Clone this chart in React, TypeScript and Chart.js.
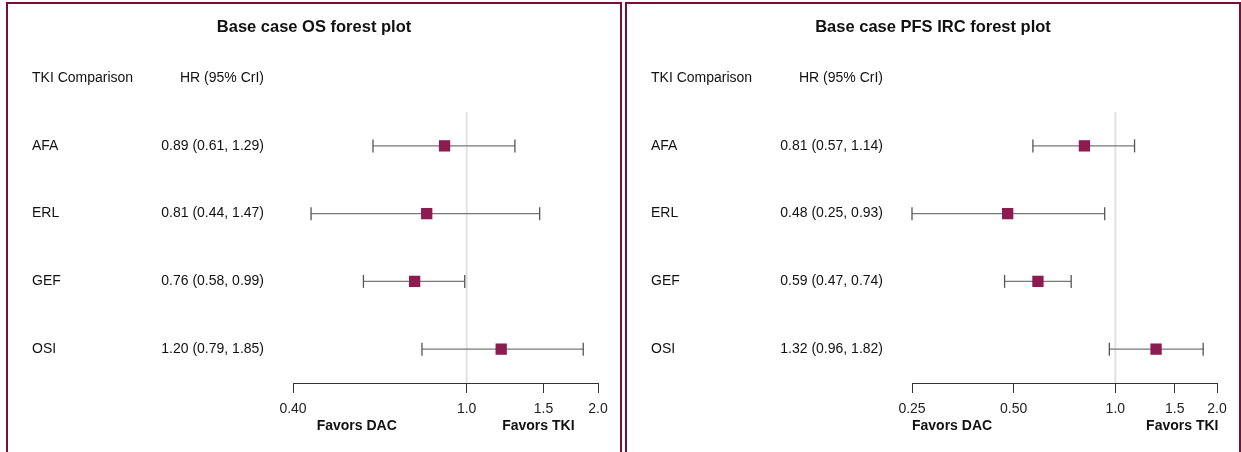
import React, { useEffect, useRef } from "react";
import { Chart, registerables } from "chart.js";

Chart.register(...registerables);

// ---- data ----
const ROW_LABELS = ["AFA", "ERL", "GEF", "OSI"];

const OS_TITLE = "Base case OS forest plot";
const OS_HR = [0.89, 0.81, 0.76, 1.2];
const OS_LO = [0.61, 0.44, 0.58, 0.79];
const OS_HI = [1.29, 1.47, 0.99, 1.85];
const OS_TICKS = [0.4, 1.0, 1.5, 2.0];
const OS_TICK_LABELS = ["0.40", "1.0", "1.5", "2.0"];

const PFS_TITLE = "Base case PFS IRC forest plot";
const PFS_HR = [0.81, 0.48, 0.59, 1.32];
const PFS_LO = [0.57, 0.25, 0.47, 0.96];
const PFS_HI = [1.14, 0.93, 0.74, 1.82];
const PFS_TICKS = [0.25, 0.5, 1.0, 1.5, 2.0];
const PFS_TICK_LABELS = ["0.25", "0.50", "1.0", "1.5", "2.0"];

const HEADER_LABEL = "TKI Comparison";
const HEADER_HR = "HR (95% CrI)";
const FAVORS_LABELS = ["Favors DAC", "Favors TKI"];

const FONT = "'Liberation Sans', Arial, Helvetica, sans-serif";
const MAROON = "#781038";
const MARKER = "#8c1c50";

const CANVAS_W = 612;
const CANVAS_H = 448;

type FavorsSpec = { at: number; align: CanvasTextAlign };

type PanelProps = {
  title: string;
  hr: number[];
  lo: number[];
  hi: number[];
  ticks: number[];
  tickLabels: string[];
  favors: FavorsSpec[];
  left: number;
};

function ForestPanel(props: PanelProps) {
  const ref = useRef<HTMLCanvasElement | null>(null);

  useEffect(() => {
    const { title, hr, lo, hi, ticks, tickLabels, favors } = props;
    const canvas = ref.current;
    if (!canvas) return;

    const textPlugin = {
      id: "forestText",
      beforeDatasetsDraw(chart: any) {
        const { ctx, chartArea, scales } = chart;
        const x1 = scales.x.getPixelForValue(1);
        ctx.save();
        ctx.strokeStyle = "#e2e2e2";
        ctx.lineWidth = 2;
        ctx.beginPath();
        ctx.moveTo(x1, chartArea.top);
        ctx.lineTo(x1, chartArea.bottom);
        ctx.stroke();
        ctx.restore();
      },
      afterDraw(chart: any) {
        const { ctx, scales, width } = chart;
        const ys = scales.y;
        const xs = scales.x;
        ctx.save();
        ctx.fillStyle = "#111";
        ctx.textBaseline = "middle";
        // title
        ctx.font = `bold 16.5px ${FONT}`;
        ctx.textAlign = "center";
        ctx.fillText(title, width / 2, 23);
        // header
        ctx.font = `14px ${FONT}`;
        const hy = ys.getPixelForValue(0);
        ctx.textAlign = "left";
        ctx.fillText(HEADER_LABEL, 24, hy);
        ctx.textAlign = "right";
        ctx.fillText(HEADER_HR, 256, hy);
        // rows
        ROW_LABELS.forEach((lab, i) => {
          const y = ys.getPixelForValue(i + 1);
          ctx.textAlign = "left";
          ctx.fillText(lab, 24, y);
          ctx.textAlign = "right";
          ctx.fillText(
            `${hr[i].toFixed(2)} (${lo[i].toFixed(2)}, ${hi[i].toFixed(2)})`,
            256,
            y
          );
        });
        // favors
        ctx.font = `bold 14px ${FONT}`;
        favors.forEach((f, i) => {
          ctx.textAlign = f.align;
          ctx.fillText(FAVORS_LABELS[i], xs.getPixelForValue(f.at), 422.5);
        });
        ctx.restore();
      },
    };

    const errorSets = hr.map((_, i) => ({
      type: "scatter",
      data: [
        { x: lo[i], y: i + 1 },
        { x: hi[i], y: i + 1 },
      ],
      showLine: true,
      borderColor: "#777",
      borderWidth: 1.2,
      pointStyle: "line",
      pointRotation: 90,
      pointRadius: 6.5,
      pointBorderColor: "#555",
      pointBorderWidth: 1.3,
      pointBackgroundColor: "#555",
      clip: false,
      order: 1,
    }));

    const markerSet = {
      type: "scatter",
      data: hr.map((v, i) => ({ x: v, y: i + 1 })),
      pointStyle: "rect",
      pointRadius: 8,
      pointBackgroundColor: MARKER,
      pointBorderColor: MARKER,
      pointBorderWidth: 0,
      clip: false,
      order: 0,
    };

    const chart = new Chart(canvas, {
      type: "scatter",
      data: { datasets: [markerSet, ...errorSets] as any },
      options: {
        animation: false,
        responsive: false,
        devicePixelRatio: 1,
        events: [],
        layout: { padding: { left: 285, right: 22, top: 108, bottom: 0 } },
        plugins: {
          legend: { display: false },
          tooltip: { enabled: false },
          title: { display: false },
        },
        scales: {
          x: {
            type: "logarithmic",
            position: "bottom",
            min: ticks[0],
            max: ticks[ticks.length - 1],
            afterBuildTicks: (scale: any) => {
              scale.ticks = ticks.map((v) => ({ value: v }));
            },
            afterFit: (scale: any) => {
              scale.height = 69;
            },
            ticks: {
              autoSkip: false,
              maxRotation: 0,
              minRotation: 0,
              padding: 8,
              color: "#222",
              font: { family: FONT, size: 14 },
              callback: (_v: any, idx: number) => tickLabels[idx],
            },
            grid: {
              drawOnChartArea: false,
              drawTicks: true,
              tickLength: 10,
              color: "#333",
              lineWidth: 1,
            },
            border: { display: true, color: "#333", width: 1 },
          },
          y: {
            type: "linear",
            display: false,
            min: 0.5,
            max: 4.5,
            reverse: true,
          },
        },
      } as any,
      plugins: [textPlugin],
    });

    return () => chart.destroy();
  }, []);

  return (
    <div
      style={{
        position: "absolute",
        left: props.left,
        top: 2,
        width: 616,
        height: 470,
        boxSizing: "border-box",
        border: `2px solid ${MAROON}`,
        borderBottom: "none",
        background: "#fff",
      }}
    >
      <canvas
        ref={ref}
        width={CANVAS_W}
        height={CANVAS_H}
        style={{ display: "block", width: CANVAS_W, height: CANVAS_H }}
      />
    </div>
  );
}

export default function App() {
  useEffect(() => {
    document.body.style.margin = "0";
    document.body.style.overflow = "hidden";
  }, []);
  return (
    <div
      style={{
        position: "absolute",
        left: 0,
        top: 0,
        width: 1241,
        height: 452,
        overflow: "hidden",
        background: "#fff",
      }}
    >
      <ForestPanel
        title={OS_TITLE}
        hr={OS_HR}
        lo={OS_LO}
        hi={OS_HI}
        ticks={OS_TICKS}
        tickLabels={OS_TICK_LABELS}
        favors={[
          { at: 0.56, align: "center" },
          { at: 1.46, align: "center" },
        ]}
        left={6}
      />
      <ForestPanel
        title={PFS_TITLE}
        hr={PFS_HR}
        lo={PFS_LO}
        hi={PFS_HI}
        ticks={PFS_TICKS}
        tickLabels={PFS_TICK_LABELS}
        favors={[
          { at: 0.25, align: "left" },
          { at: 2.02, align: "right" },
        ]}
        left={625}
      />
    </div>
  );
}
